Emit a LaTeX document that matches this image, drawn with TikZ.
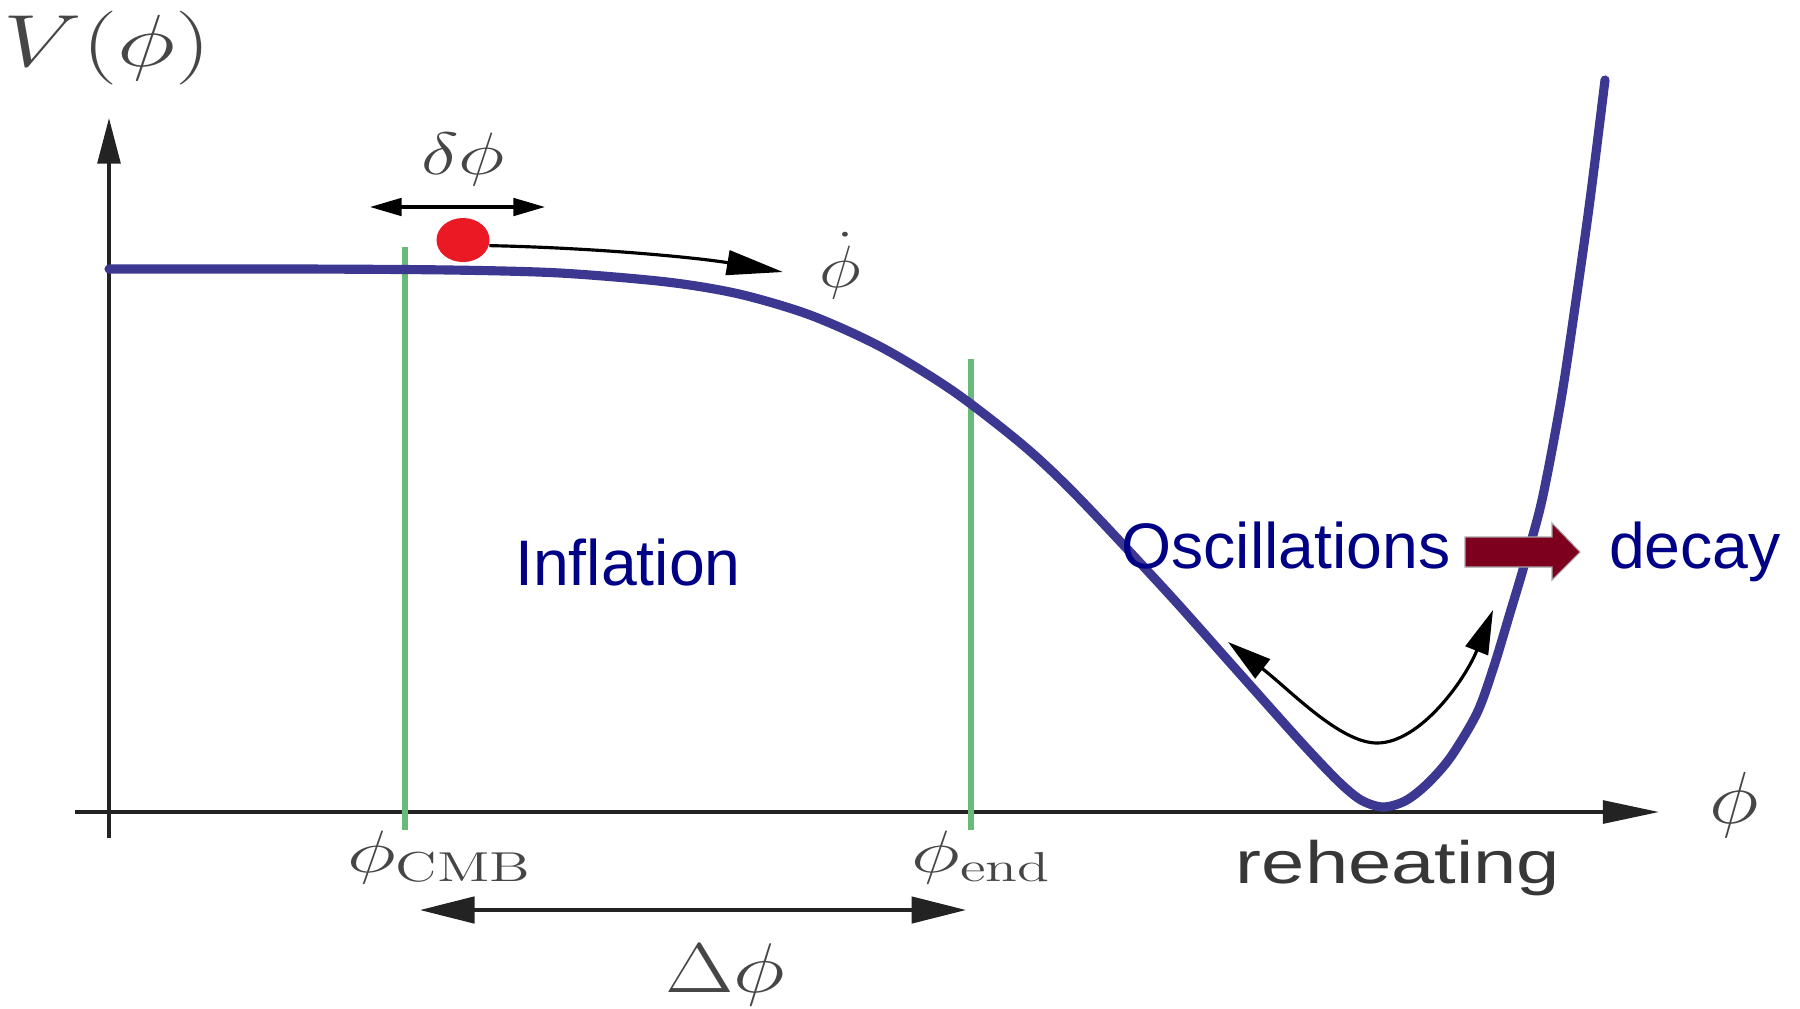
\RequirePackage{fix-cm}
\documentclass[tikz,border=0pt]{standalone}
\usepackage{fontspec}
\usepackage{graphicx}
\newfontfamily\arialfont{Liberation Sans}
\usetikzlibrary{arrows.meta,shapes.geometric}
\definecolor{curvec}{RGB}{60,55,145}
\definecolor{greenc}{RGB}{105,185,120}
\definecolor{dotred}{RGB}{235,25,35}
\definecolor{axisc}{RGB}{35,35,35}
\definecolor{labelc}{RGB}{70,70,70}
\definecolor{navyc}{RGB}{0,0,135}
\definecolor{maroonc}{RGB}{125,0,30}
\definecolor{rehc}{RGB}{55,55,55}
\begin{document}
\begin{tikzpicture}[x=0.01cm,y=-0.01cm,
  axis/.style={draw=axisc,line width=1pt},
  greenline/.style={draw=greenc,line width=1.5pt},
  curve/.style={draw=curvec,line width=2.6pt,line join=round,line cap=round},
  thinarrow/.style={draw=black,line width=0.9pt},
  mathlabel/.style={text=labelc,inner sep=0pt},
  bluetext/.style={text=navyc,inner sep=0pt,font=\arialfont\fontsize{18.3pt}{22pt}\selectfont},
]
\useasboundingbox (0,0) rectangle (1800,1008);

% axes
\coordinate (ybot) at (109,838);
\coordinate (ytop) at (109,118);
\coordinate (xleft) at (75,812);
\coordinate (xright) at (1659,812);
\draw[axis,-{Triangle[length=13pt,width=6.5pt]}] (ybot) -- (ytop);
\draw[axis,-{Triangle[length=16pt,width=6.5pt]}] (xleft) -- (xright);

% green markers
\coordinate (gc1) at (405,247);
\coordinate (gc2) at (405,830);
\coordinate (ge1) at (971,359);
\coordinate (ge2) at (971,830);
\draw[greenline] (gc1) -- (gc2);
\draw[greenline] (ge1) -- (ge2);

% potential
\draw[curve] plot[smooth,tension=0.5] coordinates {
 (109,269) (300,269) (450,270) (560,273) (667,282) (739,294) (810,315)
 (881,347) (953,391) (1024,446) (1078,497) (1167,592) (1233,666) (1300,741)
 (1338,781) (1361,800) (1383,807) (1405,801) (1426,785) (1450,758) (1477,713) (1494,666)
 (1510,613) (1524,566) (1542,500) (1561,400) (1576,300) (1590,200) (1605,80)};

% field
\node[ellipse,fill=dotred,minimum width=0.53cm,minimum height=0.44cm,inner sep=0pt] (dot) at (463,240) {};

% labels
\node[mathlabel] (Vlab) at (107,48) {\fontsize{21pt}{24pt}\selectfont\scalebox{1.35}[1]{$V(\phi)$}};
\node[mathlabel] (dphi) at (463,160) {\fontsize{17pt}{20pt}\selectfont\scalebox{1.33}[1]{$\delta\phi$}};
\node[mathlabel] (phidot) at (840,266) {\fontsize{17pt}{20pt}\selectfont\scalebox{1.2}[1]{$\dot\phi$}};
\node[mathlabel] (phicmb) at (440,858) {\fontsize{17pt}{20pt}\selectfont\scalebox{1.4}[1]{$\phi_{\mathrm{CMB}}$}};
\node[mathlabel] (phiend) at (982,858) {\fontsize{17pt}{20pt}\selectfont\scalebox{1.4}[1]{$\phi_{\mathrm{end}}$}};
\node[mathlabel] (Dphi) at (725,975) {\fontsize{20pt}{24pt}\selectfont\scalebox{1.26}[1]{$\Delta\phi$}};
\node[mathlabel] (phix) at (1734,805) {\fontsize{21pt}{24pt}\selectfont\scalebox{1.15}[1]{$\phi$}};

% delta phi arrow
\coordinate (da1) at (370,207);
\coordinate (da2) at (545,207);
\draw[thinarrow,{Triangle[length=9pt,width=5pt]}-{Triangle[length=9pt,width=5pt]}] (da1) -- (da2);

% phidot arrow
\coordinate (pd2) at (783,272);
\draw[thinarrow,-{Triangle[length=16pt,width=7pt]}] (dot.-12) .. controls (600,248) and (700,258) .. (pd2);

% Delta phi arrow
\coordinate (Da1) at (420,910);
\coordinate (Da2) at (966,910);
\draw[line width=1pt,draw=axisc,{Triangle[length=15.5pt,width=7.5pt]}-{Triangle[length=15.5pt,width=7.5pt]}] (Da1) -- (Da2);

% oscillation arrow
\coordinate (os1) at (1228,642);
\coordinate (osb) at (1377,743);
\coordinate (os2) at (1493,610);
\draw[thinarrow,{Triangle[length=12.5pt,width=6.8pt]}-{Triangle[length=12.5pt,width=6.8pt]}]
  (os1) .. controls (1290,690) and (1340,743) .. (osb) .. controls (1420,743) and (1465,680) .. (os2);

% text
\node[bluetext,anchor=base] (infl) at (628,585) {Inflation};
\node[bluetext,anchor=base] (osc) at (1286,568) {Oscillations};
\node[bluetext,anchor=base] (decay) at (1695,568) {decay};
\node[anchor=base,text=rehc,inner sep=0pt] (reh) at (1398,883) {\arialfont\fontsize{17pt}{20pt}\selectfont\scalebox{1.3}[1]{reheating}};

% big arrow
\fill[maroonc,draw=gray!70,line width=0.3pt]
  (1465,537) -- (1552,537) -- (1552,523) -- (1580,552) -- (1552,580) -- (1552,567) -- (1465,567) -- cycle;
\end{tikzpicture}
\end{document}
